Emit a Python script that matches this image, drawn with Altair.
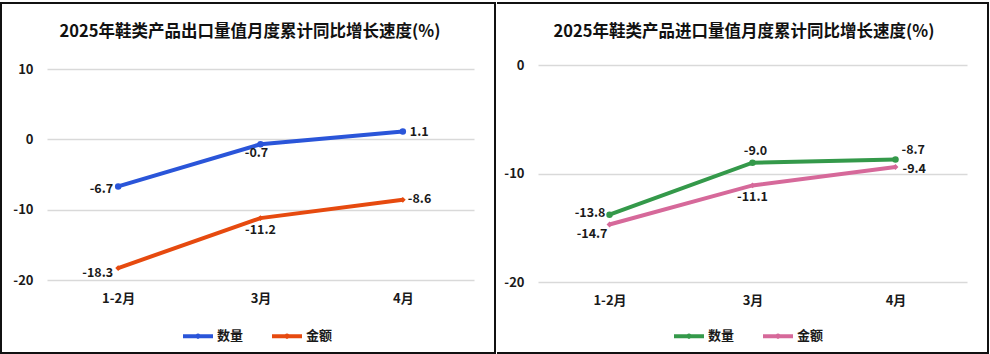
import altair as alt
import pandas as pd

# ---------------- data ----------------
months = ["1-2月", "3月", "4月"]
series = ["数量", "金额"]
export_qty = [-6.7, -0.7, 1.1]
export_val = [-18.3, -11.2, -8.6]
import_qty = [-13.8, -9.0, -8.7]
import_val = [-14.7, -11.1, -9.4]
export_title = "2025年鞋类产品出口量值月度累计同比增长速度(%)"
import_title = "2025年鞋类产品进口量值月度累计同比增长速度(%)"
export_ticks = [10, 0, -10, -20]
import_ticks = [0, -10, -20]
# left axis leaves a little headroom above the 10 gridline
export_domain = [-20, 10 + 4 * 30 / 211]
import_domain = [-20, 0]

# ---------------- style ----------------
FONT = "Noto Sans CJK SC"
TXT = "#1a1a1a"
export_colors = ["#2a55d9", "#e64a0f"]
import_colors = ["#34994a", "#d6699a"]
point_shapes = ["circle", "diamond"]
point_sizes = [42, 34]

# label placement (align, dx, dy) per series per month
export_place = {
    "数量": [("right", -5, 3), ("center", -4, 9), ("left", 7, 0)],
    "金额": [("right", -5, 5), ("center", 0, 12), ("left", 5, -1)],
}
import_place = {
    "数量": [("right", -4, -2), ("center", 3, -12), ("left", 6, -9)],
    "金额": [("right", -2, 10), ("center", 0, 12), ("left", 7, 2)],
}

# legend symbol: line with a small dot in the middle (stroked)
LEGEND_PATH = "M-1,0H1M0.05,0A0.05,0.05,0,1,1,-0.05,0A0.05,0.05,0,1,1,0.05,0"


def panel(qty, val, title, ticks, domain, colors, width, height,
          title_xy, legend_xy, place, frame_layers):
    df = pd.DataFrame({
        "month": months * 2,
        "series": [series[0]] * 3 + [series[1]] * 3,
        "value": qty + val,
    })
    df["label"] = df["value"].map(lambda v: f"{v:.1f}")

    x = alt.X("month:N", sort=months,
              scale=alt.Scale(type="point", padding=0.5),
              axis=alt.Axis(title=None, labelAngle=0, ticks=False, domain=False,
                            grid=False, labelPadding=12, labelFont=FONT,
                            labelFontSize=13, labelFontWeight="bold",
                            labelColor=TXT))
    y = alt.Y("value:Q",
              scale=alt.Scale(domain=domain, nice=False, zero=False),
              axis=alt.Axis(title=None, values=ticks, ticks=False, domain=False,
                            grid=True, gridColor="#d9d9d9", gridWidth=1.5,
                            labelPadding=14, labelFont=FONT, labelFontSize=13,
                            labelFontWeight="bold", labelColor=TXT,
                            labelExpr="replace(datum.label, '\u2212', '-')"))
    legend = alt.Legend(
        title=None, orient="none", legendX=legend_xy[0], legendY=legend_xy[1],
        direction="horizontal", symbolSize=900, padding=0,
        symbolType=LEGEND_PATH, symbolStrokeWidth=4, symbolOpacity=1,
        labelFont=FONT, labelFontSize=13, labelFontWeight="bold",
        labelColor=TXT, labelOffset=2, columnPadding=20,
    )
    cscale = alt.Scale(domain=series, range=colors)
    base = alt.Chart(df)
    line = base.mark_line(strokeWidth=4).encode(
        x=x, y=y, color=alt.Color("series:N", sort=series, scale=cscale, legend=legend))
    layers = [line]
    for i, s in enumerate(series):
        layers.append(
            base.transform_filter(alt.datum.series == s).mark_point(
                filled=True, opacity=1, color=colors[i], shape=point_shapes[i],
                size=point_sizes[i]).encode(x=x, y=y)
        )
    for s in series:
        for j, m in enumerate(months):
            a, dx, dy = place[s][j]
            layers.append(
                base.transform_filter(
                    (alt.datum.series == s) & (alt.datum.month == m)
                ).mark_text(align=a, baseline="middle", dx=dx, dy=dy,
                            font=FONT, fontSize=12.5, fontWeight="bold",
                            color=TXT).encode(x=x, y=y, text="label:N")
            )
    ttl = alt.Chart(pd.DataFrame({"t": [title]})).mark_text(
        font=FONT, fontSize=16.5, fontWeight="bold", color="#111",
        align="center", baseline="middle"
    ).encode(text="t:N", x=alt.value(title_xy[0]), y=alt.value(title_xy[1]))
    layers.append(ttl)
    layers.extend(frame_layers)
    return alt.layer(*layers).properties(width=width, height=height)


one = pd.DataFrame({"k": [0]})

left_frame = [
    alt.Chart(one).mark_rect(fill="transparent", stroke="#111", strokeWidth=2).encode(
        x=alt.value(-46), x2=alt.value(448), y=alt.value(-62), y2=alt.value(288))
]
right_frame = [
    alt.Chart(one).mark_rule(color="#111", strokeWidth=2, strokeCap="square").encode(
        x=alt.value(-40), x2=alt.value(450), y=alt.value(-62)),
    alt.Chart(one).mark_rule(color="#111", strokeWidth=2, strokeCap="square").encode(
        x=alt.value(450), y=alt.value(-62), y2=alt.value(288)),
    alt.Chart(one).mark_rule(color="#111", strokeWidth=2, strokeCap="square").encode(
        x=alt.value(-40), x2=alt.value(450), y=alt.value(288)),
]

left = panel(export_qty, export_val, export_title, export_ticks, export_domain,
             export_colors, 427, 215, (203, -33), (134, 254), export_place,
             left_frame)
right = panel(import_qty, import_val, import_title, import_ticks, import_domain,
              import_colors, 429, 217, (206, -33), (134, 254), import_place,
              right_frame)

chart = alt.concat(left, right, columns=2, spacing=0, align="none").resolve_scale(
    color="independent", x="independent", y="independent"
).resolve_legend(color="independent").properties(
    padding={"left": 0, "top": 1, "right": 0, "bottom": 0},
    background="white",
).configure_view(stroke=None)

chart.save("out.html", embed_options={"renderer": "svg", "actions": False})
